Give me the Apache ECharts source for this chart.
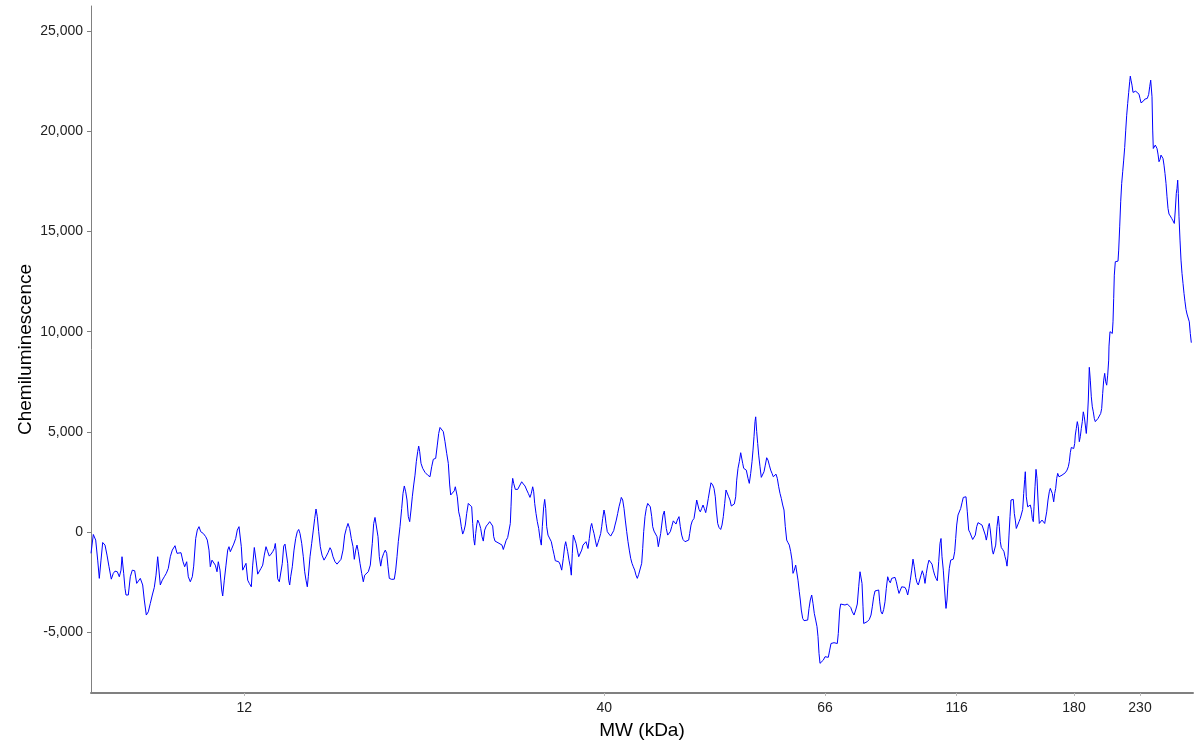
<!DOCTYPE html>
<html>
<head>
<meta charset="utf-8">
<title>Chemiluminescence vs MW</title>
<script src="https://cdn.jsdelivr.net/npm/echarts@6/dist/echarts.min.js"></script>
<style>
  html, body { margin: 0; padding: 0; background: #fff; }
  #chart { width: 1200px; height: 750px; }
</style>
</head>
<body>
<div id="chart"></div>
<script>
// lane position along the capillary (arbitrary units, left to right)
const lanePos = [
  0, 2.3, 4.7, 6.7, 8.3, 10, 11.7, 14, 16, 18, 20.3, 22.3, 24, 26.3, 28.3, 30, 31, 32.7, 34, 35,
  37.3, 39.3, 41.3, 43.7, 45.7, 47.3, 49.3, 51.7, 53.3, 55.3, 57.3, 59.3, 61.3, 63.3, 65, 66.7, 67.7, 69.3, 71.3, 73.3,
  75.3, 77.3, 79.3, 81.3, 84, 86, 88, 90, 92, 93.7, 95.7, 97.3, 99.3, 101.3, 102.7, 104.7, 106.3, 108, 109.7, 112.3,
  114.7, 116.3, 118, 119.3, 121, 122.7, 124.3, 126, 127.3, 129, 130.7, 131.7, 133.3, 135, 136.7, 138, 139.3, 141, 142.7, 144.7,
  146.3, 148, 149.3, 150.3, 151.7, 153.3, 155, 156.7, 158.3, 160.3, 161.7, 163.3, 165, 166.7, 168.3, 170, 171.7, 173.3, 175, 176.7,
  178.3, 180, 181.7, 183.3, 184.3,
  185, 186.7, 188.3, 190, 191.3, 192.7, 194, 195.7, 196.7, 197.7, 198.7, 199.7, 201.3, 203, 204.7, 206.3, 207.7, 209, 210.7, 212.3,
  213.7, 215, 216.3, 217.3, 219, 220.7, 222.3, 223.7, 225, 226.3, 227.7, 229.3, 231, 233, 235, 237, 239, 240.3, 242, 244,
  246, 248, 250, 252, 253.7, 255.3, 257, 258.7, 260.3, 262, 263.3, 264.7, 266, 267.3, 269, 270.7, 272.3, 273.7, 275.3, 277.3,
  279.3, 281.3, 282.7, 284, 285.7, 287, 288.3, 289.7, 291, 292.7, 294.3, 295.7, 297, 298.3, 300.7, 303.3, 304.7, 306, 307.3, 309,
  310.7, 312, 313.3, 314.7, 316, 317.3, 318.7, 320, 321.3, 322.7, 324, 325.3, 326.7, 327.7, 328.7, 330, 331.7, 334, 336.7, 339,
  340.7, 342.3, 344.7, 346.3, 347.7, 349, 350.7, 352.3, 354, 355.7, 357.3, 358.7, 359.7, 361.7, 363.3, 364.3, 365.3, 366.3, 367.7,
  369, 370.3, 371.7, 373, 374.3, 375.7, 377.3, 379, 380.7, 381.7, 382.7, 383.7, 384.7, 385.7, 386.7, 388.3, 389.7, 391, 392.3, 393.7,
  395.3, 397, 398.7, 400.3, 401.7, 402.7, 404, 406, 408, 409.7, 411, 412.3, 413.7, 415, 416.7, 418.3, 419.3, 420, 420.7, 421.7,
  422.7, 424.3, 426.7, 429, 430.7, 432.3, 434, 435.7, 437.3, 439, 440.3, 441.7, 442.7, 443.7, 445, 446.3, 447.7, 449, 450.3, 451.3,
  452.7, 453.7, 454.7, 455.7, 457, 459, 460.3, 461.7, 463, 464.3, 465.7, 467.7, 469, 470.7, 472.3, 473.7, 474.7, 475.7, 476.7, 478,
  479.3, 480.3, 481.3, 482.3, 483.7, 485, 486.3, 487.7, 489, 490.7, 492, 493.7, 495, 496, 497, 498.3, 499.7, 500.7, 501.7, 503,
  504.3, 505.7, 507, 508.3, 509.7, 510.7, 511.7, 513, 514, 515, 516.3, 518, 519.7, 521.3, 522.7, 524, 525.3, 526.7, 528, 529.3,
  530.3, 531.7, 533, 534.3, 535.7, 537, 538.3, 539.7, 541, 542.3, 543.7, 545, 546.3, 547.7, 549.3, 550.7, 551.7, 552.7, 554, 555.3,
  556.7, 558, 559.3, 560.7, 561.7, 563,
  564.7, 566, 567.3, 568.3, 569.7, 570.7, 572, 573.3, 574.3, 575.3, 576.7, 578, 579.3, 580.7, 582.3, 583.7, 585, 586.3, 588, 589.3,
  590.7, 592, 594, 596, 597.7, 598.7, 600, 601.3, 603, 604.3, 605.7, 606.7, 608, 609.3, 610.7, 612, 613.3, 614.7, 616, 617.3,
  618.7, 620, 621.7, 623, 624.3, 625.3, 626.7, 628, 629.7, 631, 632.3, 633.7, 635, 636.3, 637.7, 639, 640.3, 642, 643.3, 644.7,
  645.7, 647, 648.3, 649.7, 650.7, 651.7, 652.7, 654, 655.3, 657, 658.3, 659.7, 661, 662, 663, 664, 664.7, 665.7, 666.7, 667.7,
  669, 670.3, 671.7, 673, 674.3, 675.7, 677, 678.3, 679.7, 681, 682.3, 683.7, 685, 686.3, 687.7, 689, 690.3, 691.7, 693, 694.3,
  695.7, 697, 698.3, 699.7, 701, 702, 703.3, 704.7, 705.7, 707, 708.3, 709.3, 710.3, 711.7, 713, 715, 716.7, 718, 719.3, 720.7,
  722, 723.3, 724.7, 726, 727, 728, 729, 730.7, 732.3, 734, 735.7, 737.3, 738.7, 740, 741.3, 743, 745, 746.3, 747.3, 748.7,
  749.7, 751.7, 754, 756.3, 758, 759.7, 761.3, 763, 764.7, 766.3, 767.7, 769, 770, 771, 772, 772.7, 774.3, 776.3, 778.3, 780,
  781.3, 782.7, 784, 786, 787.7, 788.7, 790, 791.3, 792.7, 794, 795.3, 796.7, 798, 799.3, 800.7, 802.3, 804, 805.3, 806.7, 808,
  809.3, 810.7, 812.3, 814, 815.3, 816.7, 818, 819.3, 820.7, 822, 823.3, 824.7, 826, 827.3, 828.7, 830, 831.3, 832.7, 834, 835.3,
  836.7, 838, 839.7, 841, 842.3, 843.7, 845, 846.3, 847.7, 849, 850, 851, 852.3, 853.3, 854.3, 855, 856, 857, 858.3, 859.7,
  861, 862.3, 863.7, 864.7, 865.7, 867, 868.3, 869.7, 871, 872.3, 873.7, 875, 876.3, 877.7, 879, 880.3, 881.7, 883, 884.3, 885.7,
  887, 889, 891, 893, 894.3, 895.3, 896.3, 897.3, 898.3, 899.3, 900.3, 901.3, 902.3, 903.3, 904.7, 906, 907.3, 908.3, 909.3, 910.3,
  911.7, 913, 914, 915, 916, 917, 918, 919, 920, 921.3, 922.3, 923.3, 924.3, 925.3, 926.7, 928, 929.3, 930.7, 931.7, 932.7, 933.7,
  934.3, 935.3, 936.7, 938, 939.3, 940.3, 941.3, 942.3, 943, 944, 945, 946, 947, 948.3, 949.7, 951, 952.3, 953.7, 954.7, 955.7,
  957, 958.3, 959.3, 960.3, 961.3, 962.7, 963.7, 964.7, 965.7, 966.7, 968, 969.3, 971, 972.7, 974.3, 976, 977.3, 978.3, 979.3, 980.3,
  981.7, 982.7, 983.7, 984.3, 985.3, 986.3, 987.3, 988.3, 989.3, 990.3, 991.3, 992.3, 993.3, 994.3, 995.3, 996.3, 997.3, 998.3, 999.3, 1000.3,
  1001.3, 1002.3, 1003.3, 1004.3, 1005.7, 1007, 1008.3, 1009.7, 1010.7, 1011.7, 1012.7, 1013.7, 1014.7, 1015.7, 1016.7, 1017.7,
  1018, 1019, 1020.3, 1021.3, 1022, 1022.7, 1023.3, 1024.3, 1025.7, 1027, 1027.7, 1028.7, 1029.7, 1030.7, 1031.7, 1032.7, 1033.7, 1034.7, 1035.7, 1036.7,
  1037.7, 1038.7, 1039.3, 1040, 1041, 1042, 1043, 1044.7, 1046.3, 1048, 1049, 1050, 1051, 1052.3, 1053.7, 1055, 1056.3, 1057.7, 1058.7, 1059.7,
  1060.3, 1061, 1061.7, 1062.3, 1063.3, 1064.3, 1065.3, 1066, 1067, 1068, 1069, 1070, 1071, 1072, 1073, 1074, 1075, 1076, 1077, 1078,
  1079.3, 1080.7, 1082, 1083.3, 1084.3, 1085.3, 1086, 1086.7, 1087.3, 1088, 1089, 1090, 1091, 1092, 1093, 1094, 1095, 1096, 1097.3, 1098.3,
  1099.3, 1100.3
];

// chemiluminescence signal at each lane position
const signal = [
  -1060, -120, -400, -1400, -2310, -1400, -520, -650, -1150, -1730, -2350, -2060, -1950, -1980, -2230, -1900, -1230, -2060, -2810, -3140,
  -3140, -2230, -1900, -1930, -2560, -2560, -2310, -2640, -3390, -4140, -3980, -3560, -3140, -2760, -2150, -1230, -1260, -2640, -2400, -2230,
  -2060, -1810, -1230, -900, -680, -1060, -1060, -1030, -1480, -1730, -1480, -2230, -2480, -2230, -1700, -320, 100, 270, 20, -70,
  -230, -400, -900, -1730, -1400, -1310, -1650, -1980, -1480, -1900, -2890, -3190, -2400, -1650, -900, -730, -980, -900, -600, -320,
  100, 270, 270, -730, -1900, -1810, -1560, -2400, -2560, -2730, -1650, -770, -1400, -2100, -2030, -1810, -1650, -1150, -730, -980,
  -1200, -1100, -980, -820, -570,
  -900, -2330, -2480, -2480, -1560, -700, -600, -650, -1560, -2400, -2640, -2230, -1730, -900, -320, 20, 130, -70, -560, -1230,
  -1980, -2400, -2730, -2230, -1230, -560, 100, 680, 1150, 770, 20, -730, -1150, -1400, -1230, -1030, -780, -900, -1230, -1480,
  -1600, -1560, -1360, -900, -150, 170, 430, 170, -320, -730, -1360, -900, -650, -980, -1560, -2060, -2480, -2150, -2060, -1980,
  -1650, -560, 430, 730, 730, -230, -1230, -1700, -1310, -1060, -900, -1060, -1730, -2310, -2360, -2350, -1900, -1230, -480, 270,
  1180, 1930, 2300, 2010, 1600, 770, 520, 1100, 1760, 2350, 2840, 3510, 4010, 4290, 4010, 3430, 3180, 2980, 2840, 2760,
  3260, 3630, 3680, 4340, 4920, 5220, 5220, 5010, 4510, 3930, 3430, 2350, 1850, 1900, 2060, 2260, 2230, 1760, 1010,
  730, 270, -100, 70, 350, 930, 1430, 1350, 1260, 430, -320, -650, -70, 350, 600, 430, 180, -230, -450, 100,
  300, 400, 520, 430, 300, -230, -450, -530, -560, -480, -650, -870, -650, -430, -270, -200, 430, 1260, 2180, 2680,
  2430, 2130, 2130, 2350, 2510, 2400, 2300, 2100, 1930, 1730, 1930, 2260, 2010, 1430, 930, 520, 180, -320, -650, 270,
  1260, 1630, 1180, 270, -150, -150, -480, -820, -1110, -1430, -1480, -1480, -1600, -1900, -1310, -700, -480, -730, -980, -1400,
  -1730, -2150, -1060, -150, -150, -560, -900, -1230, -1230, -900, -650, -560, -480, -650, -820, -320, 270, 430, 180, -70,
  -400, -730, -530, -320, -70, 270, 680, 1100, 850, 430, 20, -100, -200, -270, 70, 350, 600, 930, 1260, 1510,
  1730, 1600, 1180, 600, 20, -480, -900, -1310, -1560, -1730, -1900, -2150, -2310, -2110, -2030, -1560, -820, 20, 770, 1180,
  1430, 1430, 1260, 770, 270, 50,
  20, -230, -730, -730, -70, 350, 850, 1050, 600, 180, -150, -150, 20, 270, 560, 470, 400, 600, 770, 270,
  -150, -370, -480, -480, -400, -70, 350, 560, 680, 1100, 1600, 1510, 1130, 1010, 1180, 1350, 1180, 970, 1300, 1680,
  2100, 2460, 2350, 2180, 1760, 1100, 430, 230, 130, 350, 770, 1430, 2100, 2010, 1760, 1600, 1300, 1300, 1400, 1760,
  2590, 3180, 3510, 3960, 3930, 3430, 3180, 3190, 3090, 2680, 2430, 2930, 3510, 4090, 4760, 5510, 5750, 5010, 4420, 3840,
  3260, 2730, 2790, 3010, 3340, 3710, 3590, 3340, 3090, 2930, 2760, 2810, 2890, 2680, 2260, 1930, 1680, 1350, 1100, 270,
  -400, -530, -650, -980, -1400, -2060, -1900, -1650, -1560, -2400, -2980, -3390, -3890, -4310, -4420, -4470, -4390, -3810, -3390, -3140,
  -3560, -4060, -4390, -4720, -5220, -6050, -6550, -6520, -6390, -6220, -6190, -6250, -5890, -5560, -5470, -5520, -5520, -5560, -5060, -3890,
  -3590, -3640, -3640, -3590, -3560, -3760, -3980, -4140, -3890, -3590, -2730, -1980, -1980, -2560, -3730, -4560, -4560, -4470, -4360, -4140,
  -3730, -3230, -2940, -2860, -2890, -3480, -3980, -4090, -3860, -3480, -2810, -2230, -2430, -2530, -2310, -2260, -2260, -2480, -2810, -3060,
  -2980, -2730, -2690, -2760, -2890, -3140, -2810, -2400, -1900, -1350, -1730, -2260, -2530, -2640, -2560, -2150, -1930, -2150, -2560, -2060,
  -1650, -1400, -1400, -1600, -1900, -2150, -2310, -2430, -1480, -560, -320, -1230, -1900, -2640, -3390, -3810, -3390, -2560, -1810, -1400,
  -1360, -1350, -980, -320, 350, 850, 930, 1180, 1460, 1730, 1800, 1760, 1010, 100, -30, -200, -370, -370, -150, 270,
  470, 400, 350, 270, -150, -400, -150, 270, 430, 100, -400, -900, -1100, -1100, -650, 270, 800, 270, -480, -770,
  -870, -980, -1230, -1400, -1700, -1150, -150, 770, 1600, 1680, 1630, 930, 600, 180, 350, 520, 680, 770, 1130, 1930, 2630,
  3010, 1760, 1260, 1260, 1350, 1130, 680, 520, 1260, 2260, 3130, 2680, 1600, 430, 520, 600, 520, 430, 350, 1010,
  1600, 2010, 2180, 2260, 1930, 1510, 1930, 2180, 2680, 2930, 2760, 2790, 2840, 2890, 2960, 3090, 3260, 3510, 3960, 4220,
  4220, 4170, 4420, 4840, 5170, 5510, 5260, 4510, 4760, 5170, 5510, 6000, 5750, 5340, 4920, 5590, 6590, 8220, 7580, 6750,
  6250, 6000, 5670, 5510, 5590, 5670, 5790, 5920, 6170, 6920, 7580, 7920, 7500, 7330, 7830, 8580,
  9280, 10000, 10000, 9910, 10490, 11660, 12820, 13490, 13520, 13520, 14070, 15230, 16480, 17400, 17980, 18560, 19190, 20020, 20800, 21390,
  21940, 22470, 22750, 22550, 22300, 21940, 21970, 22000, 21920, 21850, 21640, 21420, 21350, 21500, 21600, 21640, 21640, 21840, 22220, 22550,
  22470, 21720, 20060, 19140, 19170, 19310, 19390, 19140, 18860, 18480, 18590, 18810, 18890, 18640, 18310, 17890, 17400, 16730, 16150, 15870,
  15770, 15650, 15530, 15400, 16070, 16900, 17150, 17560, 16900, 15730, 14570, 13570, 12910, 12410, 11910, 11490, 11110, 10880, 10880, 10490,
  9910, 9450
];

// molecular-weight ladder marks on the x axis
const mwTickPos = [153.3, 513.3, 734, 865.7, 983, 1049];
const mwTickLabels = ['12', '40', '66', '116', '180', '230'];

// y axis labelled values
const yTicks = [-5000, 0, 5000, 10000, 15000, 20000, 25000];

const FONT = 'Liberation Sans, Arial, Helvetica, sans-serif';
const AXIS_GREY = '#808080';

const chart = echarts.init(document.getElementById('chart'), null, { renderer: 'canvas' });

const option = {
  animation: false,
  backgroundColor: '#ffffff',
  grid: { left: 91, right: 7, top: 6, bottom: 57, containLabel: false },
  xAxis: {
    type: 'value',
    min: 0,
    max: 1102,
    name: 'MW (kDa)',
    nameLocation: 'middle',
    nameGap: 28,
    nameMoveOverlap: false,
    nameTextStyle: { fontFamily: FONT, fontSize: 19, color: '#000' },
    axisLine: { show: true, onZero: false, lineStyle: { color: AXIS_GREY, width: 2 } },
    axisTick: { show: true, length: 3, customValues: mwTickPos, lineStyle: { color: '#bbb' } },
    axisLabel: {
      customValues: mwTickPos,
      fontFamily: FONT, fontSize: 14, color: '#222', margin: 8,
      formatter: function (v) {
        let best = 0;
        for (let i = 1; i < mwTickPos.length; i++) {
          if (Math.abs(mwTickPos[i] - v) < Math.abs(mwTickPos[best] - v)) best = i;
        }
        return mwTickLabels[best];
      }
    },
    splitLine: { show: false }
  },
  yAxis: {
    type: 'value',
    min: -8030,
    max: 26250,
    name: 'Chemiluminescence',
    nameLocation: 'middle',
    nameGap: 56,
    nameMoveOverlap: false,
    nameTextStyle: { fontFamily: FONT, fontSize: 19, color: '#000' },
    axisLine: { show: true, onZero: false, lineStyle: { color: AXIS_GREY, width: 1 } },
    axisTick: { show: true, length: 4, customValues: yTicks, lineStyle: { color: AXIS_GREY } },
    axisLabel: {
      customValues: yTicks,
      fontFamily: FONT, fontSize: 14, color: '#222', margin: 8,
      formatter: function (v) { return v.toLocaleString('en-US'); }
    },
    splitLine: { show: false }
  },
  series: [{
    type: 'line',
    data: lanePos.map(function (p, i) { return [p, signal[i]]; }),
    showSymbol: false,
    symbol: 'none',
    lineStyle: { color: '#0000ff', width: 1 },
    silent: true
  }]
};

chart.setOption(option);
</script>
</body>
</html>
